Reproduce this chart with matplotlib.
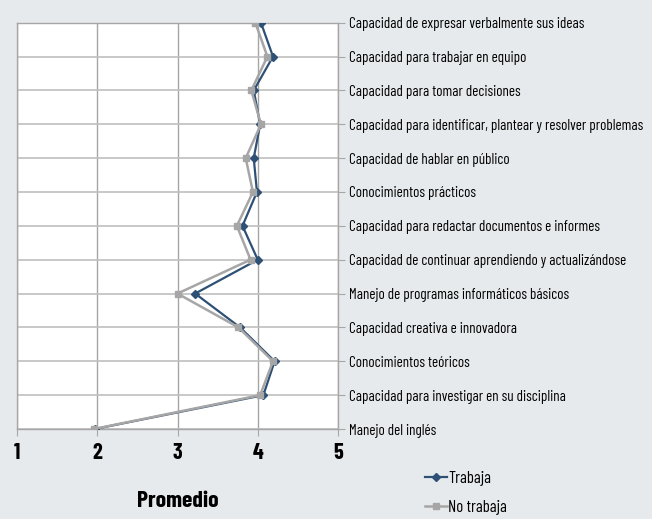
import matplotlib
matplotlib.use("Agg")
import matplotlib.pyplot as plt
from matplotlib import font_manager

names = {f.name for f in font_manager.fontManager.ttflist}
FONT = next((n for n in ("Barlow Condensed", "Roboto Condensed", "Archivo Narrow", "DejaVu Sans")
             if n in names), "DejaVu Sans")
plt.rcParams["font.family"] = [FONT, "DejaVu Sans"]

categorias = [
    "Capacidad de expresar verbalmente sus ideas",
    "Capacidad para trabajar en equipo",
    "Capacidad para tomar decisiones",
    "Capacidad para identificar, plantear y resolver problemas",
    "Capacidad de hablar en público",
    "Conocimientos prácticos",
    "Capacidad para redactar documentos e informes",
    "Capacidad de continuar aprendiendo y actualizándose",
    "Manejo de programas informáticos básicos",
    "Capacidad creativa e innovadora",
    "Conocimientos teóricos",
    "Capacidad para investigar en su disciplina",
    "Manejo del inglés",
]
trabaja = [4.04, 4.19, 3.95, 4.03, 3.95, 3.99, 3.81, 4.00, 3.22, 3.78, 4.21, 4.07, 1.97]
no_trabaja = [3.97, 4.12, 3.92, 4.04, 3.85, 3.94, 3.74, 3.91, 3.00, 3.76, 4.19, 4.03, 1.96]
xticks = [1, 2, 3, 4, 5]

BG = "#E7EAED"
AZUL = "#2E5075"
GRIS = "#A6A6A6"

fig = plt.figure(figsize=(6.52, 5.19), dpi=100, facecolor=BG)
ax = fig.add_axes([17 / 652, 1 - 429 / 519, 321 / 652, (429 - 22.7) / 519])
ax.set_facecolor("white")

pos = list(range(len(categorias)))
ax.plot(trabaja, pos, color=AZUL, lw=1.6, marker="D", ms=4.5, label="Trabaja", zorder=3)
ax.plot(no_trabaja, pos, color=GRIS, lw=1.8, marker="s", ms=5, label="No trabaja", zorder=4)

ax.set_xlim(1, 5)
ax.set_ylim(len(categorias) - 1, 0)
ax.set_xticks(xticks)
ax.set_xticklabels([str(t) for t in xticks], fontsize=16, fontweight="bold")
ax.set_yticks(pos)
ax.set_yticklabels(categorias, fontsize=10.8)
ax.yaxis.tick_right()
ax.tick_params(axis="y", length=5, color=GRIS, pad=3)
ax.tick_params(axis="x", length=5, color=GRIS, pad=5)
ax.grid(axis="x", color=GRIS, lw=1)
ax.grid(axis="y", color="#BFBFBF", lw=1.2)
ax.set_axisbelow(True)
for s in ax.spines.values():
    s.set_color(GRIS)
    s.set_linewidth(1)

ax.set_xlabel("Promedio", fontsize=17, fontweight="bold", labelpad=20)

h, l = ax.get_legend_handles_labels()
fig.legend(h, l, loc="center", bbox_to_anchor=(0.715, 0.05),
           frameon=False, fontsize=12, handlelength=1.3, handletextpad=0.1,
           labelspacing=0.85, markerscale=0.8)

fig.savefig("out.png", dpi=100, facecolor=BG)
